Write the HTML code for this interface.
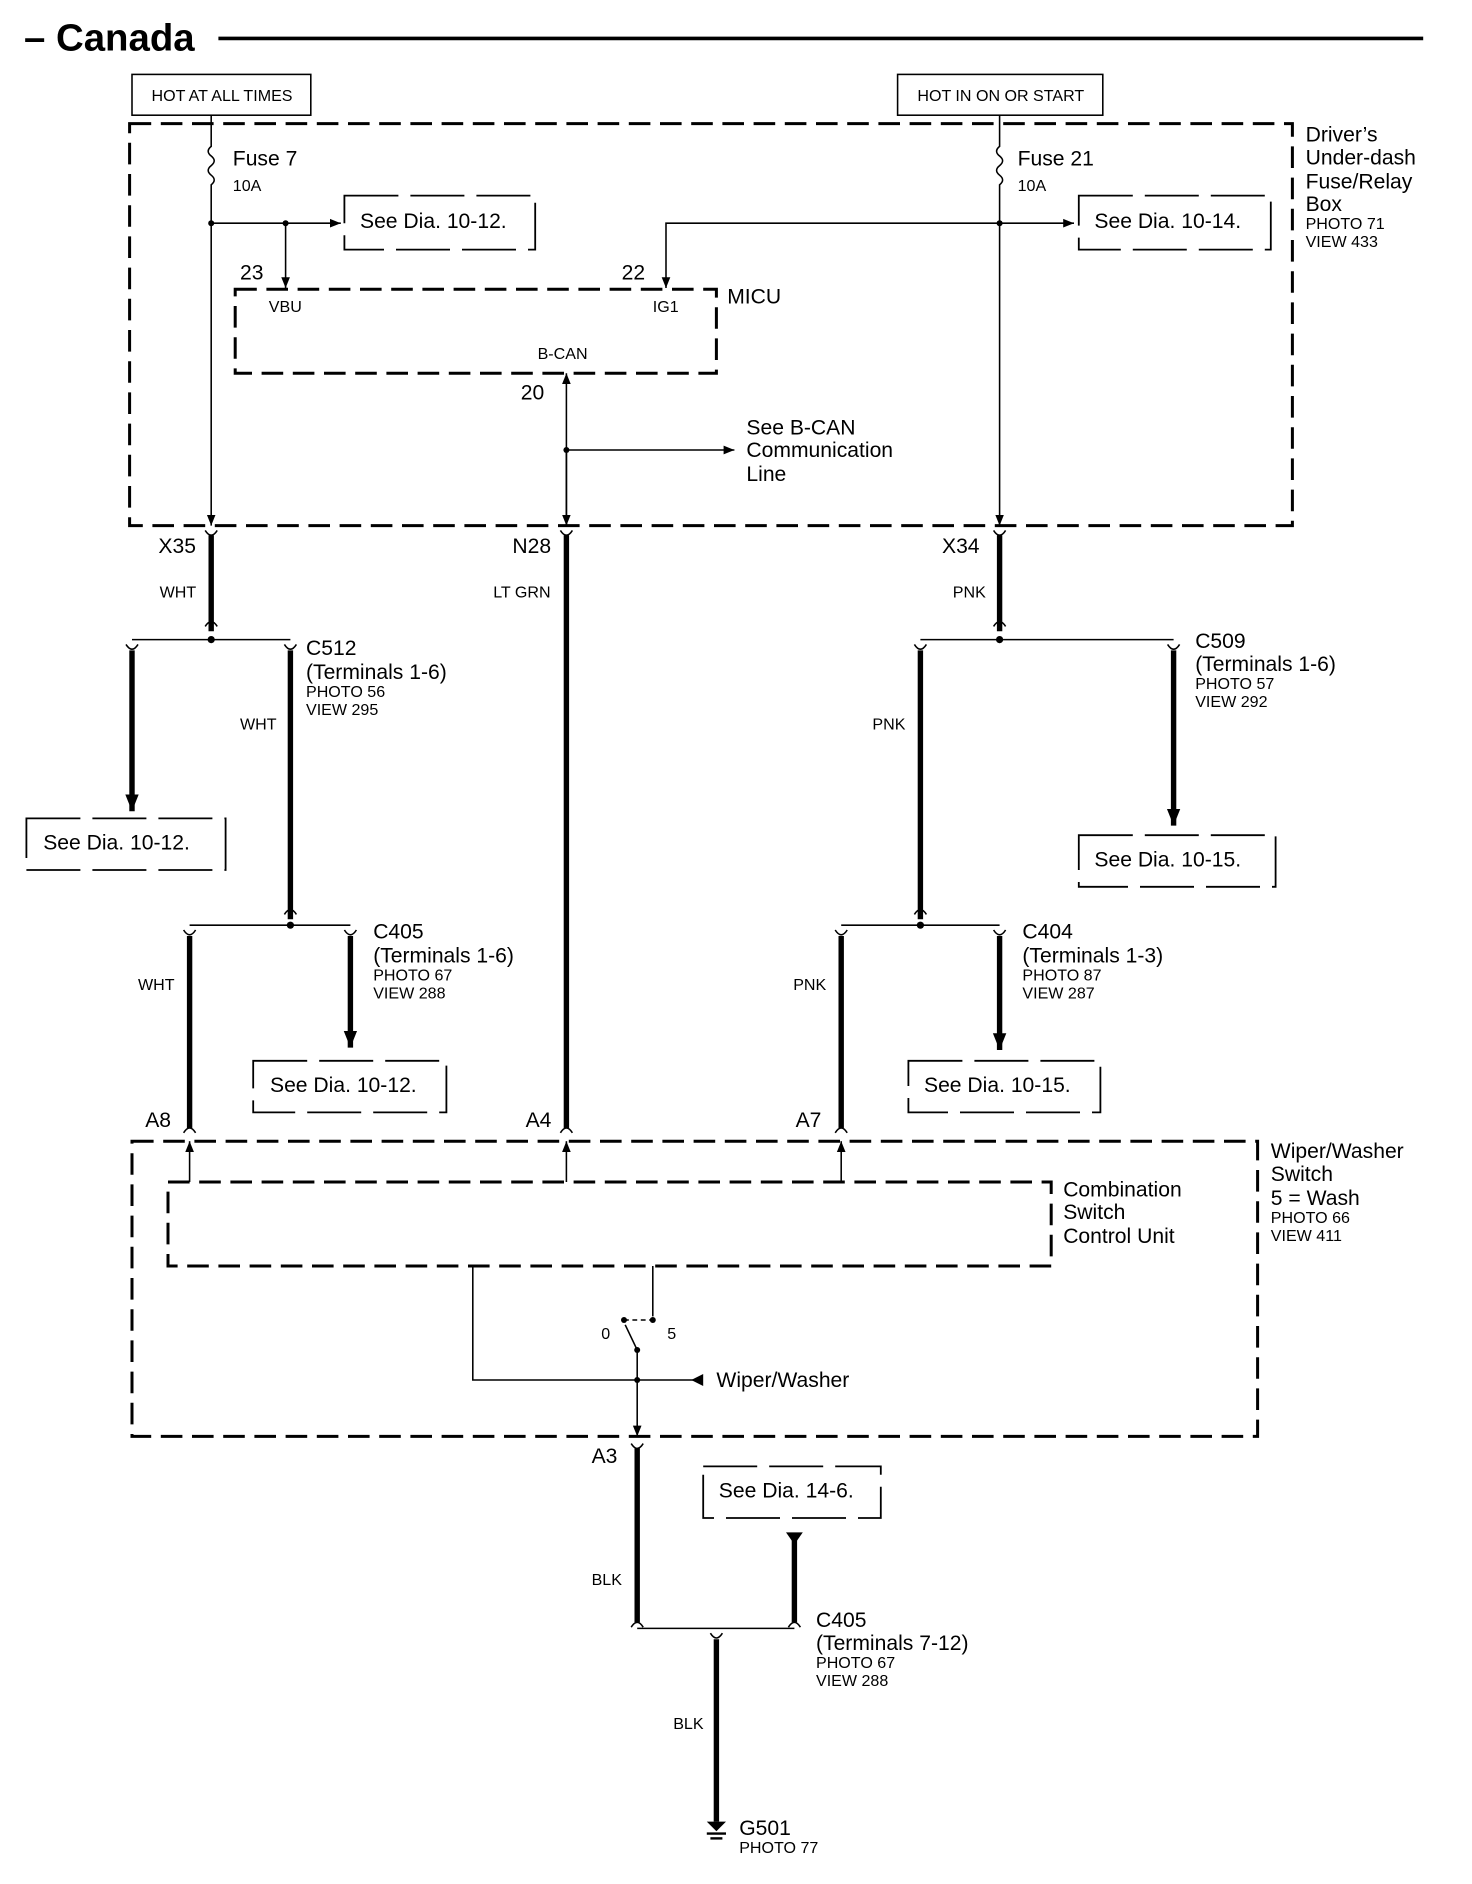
<!DOCTYPE html>
<html><head><meta charset="utf-8"><style>
html,body{margin:0;padding:0;background:#fff;}
svg{display:block;}
text{font-family:"Liberation Sans",Arial,sans-serif;fill:#000;}
.l{font-size:17.6px;}
.s{font-size:13.4px;}
.d{fill:none;stroke:#000;stroke-width:2.5;stroke-dasharray:18 8;}
.db{fill:none;stroke:#000;stroke-width:1.5;stroke-dasharray:45 10;}
.t{stroke:#000;stroke-width:1.3;fill:none;}
.w{stroke:#000;stroke-width:4.5;fill:none;}
</style></head><body>
<svg width="1472" height="1884" viewBox="0 0 1226.67 1570" xmlns="http://www.w3.org/2000/svg">
<defs>
<marker id="a" viewBox="0 0 10 10" refX="10" refY="5" markerWidth="9" markerHeight="9" markerUnits="userSpaceOnUse" orient="auto"><path d="M0,1 L10,5 L0,9 z"/></marker>
<marker id="ab" viewBox="0 0 10 10" refX="10" refY="5" markerWidth="14" markerHeight="14" markerUnits="userSpaceOnUse" orient="auto"><path d="M0,1 L10,5 L0,9 z"/></marker>
</defs>
<text x="20" y="42" font-size="32" font-weight="bold">– Canada</text>
<line x1="182" y1="32" x2="1186" y2="32" stroke="#000" stroke-width="3"/>

<rect x="110" y="62" width="149" height="34" class="t" stroke-width="2"/>
<text x="185" y="84" class="s" text-anchor="middle">HOT AT ALL TIMES</text>
<rect x="748" y="62" width="171" height="34" class="t" stroke-width="2"/>
<text x="834" y="84" class="s" text-anchor="middle">HOT IN ON OR START</text>

<rect x="108" y="103" width="969" height="335" class="d"/>
<text class="l" x="1088" y="118">Driver’s</text>
<text class="l" x="1088" y="137">Under-dash</text>
<text class="l" x="1088" y="157">Fuse/Relay</text>
<text class="l" x="1088" y="176">Box</text>
<text class="s" x="1088" y="191">PHOTO 71</text>
<text class="s" x="1088" y="206">VIEW 433</text>

<path class="t" d="M176 96 V122 q-5 4 0 8 q5 4 0 8 q-5 4 0 8 q5 4 0 8 V438" marker-end="url(#a)"/>
<text class="l" x="194" y="138">Fuse 7</text>
<text class="s" x="194" y="159">10A</text>
<circle cx="176" cy="186" r="2.5"/>
<path class="t" d="M176 186 H284" marker-end="url(#a)"/>
<circle cx="238" cy="186" r="2.5"/>
<path class="t" d="M238 186 V240" marker-end="url(#a)"/>
<rect x="287" y="163" width="159" height="45" class="db"/>
<text class="l" x="300" y="190">See Dia. 10-12.</text>

<text class="l" x="200" y="233">23</text>
<rect x="196" y="241" width="401" height="70" class="d"/>
<text class="s" x="224" y="260">VBU</text>
<text class="s" x="544" y="260">IG1</text>
<text class="s" x="448" y="299">B-CAN</text>
<text class="l" x="606" y="253">MICU</text>
<text class="l" x="518" y="233">22</text>

<path class="t" d="M833 96 V122 q-5 4 0 8 q5 4 0 8 q-5 4 0 8 q5 4 0 8 V438" marker-end="url(#a)"/>
<text class="l" x="848" y="138">Fuse 21</text>
<text class="s" x="848" y="159">10A</text>
<circle cx="833" cy="186" r="2.5"/>
<path class="t" d="M833 186 H895" marker-end="url(#a)"/>
<path class="t" d="M833 186 H555 V240" marker-end="url(#a)"/>
<rect x="899" y="163" width="160" height="45" class="db"/>
<text class="l" x="912" y="190">See Dia. 10-14.</text>

<path class="t" d="M472 438 V311" marker-end="url(#a)"/>
<path class="t" d="M472 375 V438" marker-end="url(#a)"/>
<text class="l" x="434" y="333">20</text>
<circle cx="472" cy="375" r="2.5"/>
<path class="t" d="M472 375 H612" marker-end="url(#a)"/>
<text class="l" x="622" y="362">See B-CAN</text>
<text class="l" x="622" y="381">Communication</text>
<text class="l" x="622" y="401">Line</text>

<text class="l" x="132" y="461">X35</text>
<path class="w" d="M176 446 V526"/>
<path class="t" stroke-width="2.5" d="M171 442 q5 8 10 0 M171 522 q5 -8 10 0"/>
<text class="s" x="133" y="498">WHT</text>
<path class="t" d="M110 533 H242"/>
<circle cx="176" cy="533" r="3"/>
<path class="t" stroke-width="2.5" d="M105 537 q5 8 10 0 M237 537 q5 8 10 0"/>
<path class="w" d="M110 542 V676" marker-end="url(#ab)"/>
<rect x="22" y="682" width="166" height="43" class="db"/>
<text class="l" x="36" y="708">See Dia. 10-12.</text>
<path class="w" d="M242 542 V766"/>
<path class="t" stroke-width="2.5" d="M237 762 q5 -8 10 0"/>
<text class="l" x="255" y="546">C512</text>
<text class="l" x="255" y="566">(Terminals 1-6)</text>
<text class="s" x="255" y="581">PHOTO 56</text>
<text class="s" x="255" y="596">VIEW 295</text>
<text class="s" x="200" y="608">WHT</text>
<path class="t" d="M158 771 H292"/>
<circle cx="242" cy="771" r="3"/>
<path class="t" stroke-width="2.5" d="M153 775 q5 8 10 0 M287 775 q5 8 10 0"/>
<path class="w" d="M158 780 V940"/>
<path class="t" stroke-width="2.5" d="M153 944 q5 -8 10 0"/>
<path class="w" d="M292 780 V873" marker-end="url(#ab)"/>
<text class="l" x="311" y="782">C405</text>
<text class="l" x="311" y="802">(Terminals 1-6)</text>
<text class="s" x="311" y="817">PHOTO 67</text>
<text class="s" x="311" y="832">VIEW 288</text>
<rect x="211" y="884" width="161" height="43" class="db"/>
<text class="l" x="225" y="910">See Dia. 10-12.</text>
<text class="s" x="115" y="825">WHT</text>
<text class="l" x="121" y="939">A8</text>

<text class="l" x="427" y="461">N28</text>
<text class="s" x="411" y="498">LT GRN</text>
<path class="w" d="M472 446 V940"/>
<path class="t" stroke-width="2.5" d="M467 442 q5 8 10 0 M467 944 q5 -8 10 0"/>
<text class="l" x="438" y="939">A4</text>

<text class="l" x="785" y="461">X34</text>
<text class="s" x="794" y="498">PNK</text>
<path class="w" d="M833 446 V526"/>
<path class="t" stroke-width="2.5" d="M828 442 q5 8 10 0 M828 522 q5 -8 10 0"/>
<path class="t" d="M767 533 H978"/>
<circle cx="833" cy="533" r="3"/>
<path class="t" stroke-width="2.5" d="M762 537 q5 8 10 0 M973 537 q5 8 10 0"/>
<path class="w" d="M978 542 V688" marker-end="url(#ab)"/>
<text class="l" x="996" y="540">C509</text>
<text class="l" x="996" y="559">(Terminals 1-6)</text>
<text class="s" x="996" y="574">PHOTO 57</text>
<text class="s" x="996" y="589">VIEW 292</text>
<rect x="899" y="696" width="164" height="43" class="db"/>
<text class="l" x="912" y="722">See Dia. 10-15.</text>
<path class="w" d="M767 542 V766"/>
<path class="t" stroke-width="2.5" d="M762 762 q5 -8 10 0"/>
<text class="s" x="727" y="608">PNK</text>
<path class="t" d="M701 771 H833"/>
<circle cx="767" cy="771" r="3"/>
<path class="t" stroke-width="2.5" d="M696 775 q5 8 10 0 M828 775 q5 8 10 0"/>
<path class="w" d="M701 780 V940"/>
<path class="t" stroke-width="2.5" d="M696 944 q5 -8 10 0"/>
<path class="w" d="M833 780 V875" marker-end="url(#ab)"/>
<text class="l" x="852" y="782">C404</text>
<text class="l" x="852" y="802">(Terminals 1-3)</text>
<text class="s" x="852" y="817">PHOTO 87</text>
<text class="s" x="852" y="832">VIEW 287</text>
<rect x="757" y="884" width="160" height="43" class="db"/>
<text class="l" x="770" y="910">See Dia. 10-15.</text>
<text class="s" x="661" y="825">PNK</text>
<text class="l" x="663" y="939">A7</text>

<rect x="110" y="951" width="938" height="246" class="d"/>
<text class="l" x="1059" y="965">Wiper/Washer</text>
<text class="l" x="1059" y="984">Switch</text>
<text class="l" x="1059" y="1004">5 = Wash</text>
<text class="s" x="1059" y="1019">PHOTO 66</text>
<text class="s" x="1059" y="1034">VIEW 411</text>
<path class="t" d="M158 985 V951" marker-end="url(#a)"/>
<path class="t" d="M472 985 V951" marker-end="url(#a)"/>
<path class="t" d="M701 985 V951" marker-end="url(#a)"/>
<rect x="140" y="985" width="736" height="70" class="d"/>
<text class="l" x="886" y="997">Combination</text>
<text class="l" x="886" y="1016">Switch</text>
<text class="l" x="886" y="1036">Control Unit</text>
<path class="t" d="M394 1055 V1150 H531"/>
<path class="t" d="M544 1055 V1097"/>
<path class="t" stroke-dasharray="4 3" d="M520 1100 H544"/>
<circle cx="544" cy="1100" r="2.5"/>
<circle cx="520" cy="1100" r="2.5"/>
<path class="t" stroke-width="2" d="M531 1125 L521 1104"/>
<circle cx="531" cy="1125" r="2.5"/>
<text class="s" x="501" y="1116">0</text>
<text class="s" x="556" y="1116">5</text>
<path class="t" d="M531 1125 V1197" marker-end="url(#a)"/>
<circle cx="531" cy="1150" r="2.5"/>
<path class="t" d="M531 1150 H585"/>
<path d="M576 1150 L586 1145 L586 1155 z"/>
<text class="l" x="597" y="1156">Wiper/Washer</text>

<text class="l" x="493" y="1219">A3</text>
<path class="w" d="M531 1207 V1352"/>
<path class="t" stroke-width="2.5" d="M526 1203 q5 8 10 0 M526 1356 q5 -8 10 0"/>
<text class="s" x="493" y="1321">BLK</text>
<rect x="586" y="1222" width="148" height="43" class="db"/>
<text class="l" x="599" y="1248">See Dia. 14-6.</text>
<path d="M655 1277 H669 L662 1287 z"/>
<path class="w" d="M662 1282 V1352"/>
<path class="t" stroke-width="2.5" d="M657 1356 q5 -8 10 0"/>
<path class="t" d="M531 1357 H662"/>
<path class="t" stroke-width="2.5" d="M592 1361 q5 8 10 0"/>
<path class="w" d="M597 1366 V1518"/>
<text class="l" x="680" y="1356">C405</text>
<text class="l" x="680" y="1375">(Terminals 7-12)</text>
<text class="s" x="680" y="1390">PHOTO 67</text>
<text class="s" x="680" y="1405">VIEW 288</text>
<text class="s" x="561" y="1441">BLK</text>
<path d="M589 1518 H605 L597 1526 z"/>
<line x1="589" y1="1528" x2="605" y2="1528" stroke="#000" stroke-width="2"/>
<line x1="592" y1="1532" x2="602" y2="1532" stroke="#000" stroke-width="2"/>
<text class="l" x="616" y="1529">G501</text>
<text class="s" x="616" y="1544">PHOTO 77</text>
</svg>
</body></html>
